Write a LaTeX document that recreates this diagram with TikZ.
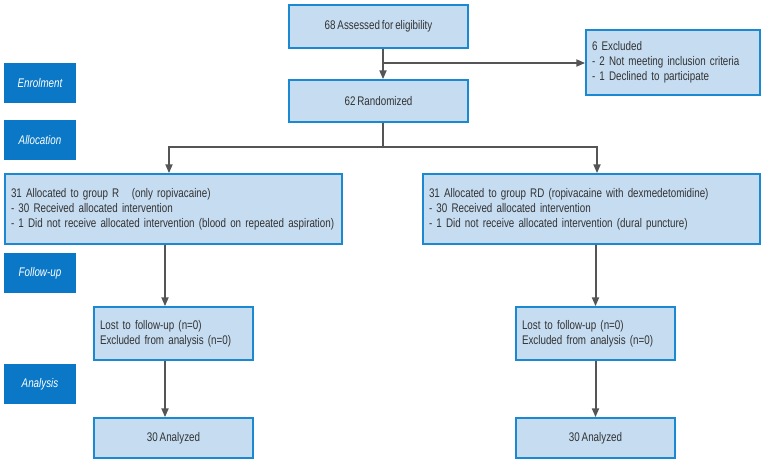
\documentclass[tikz,border=0pt]{standalone}
\usepackage{fontspec}
\setmainfont{Liberation Sans}[FakeStretch=0.785, WordSpace=0.7]
\usetikzlibrary{arrows.meta,positioning}
\definecolor{boxfill}{HTML}{C5DCF1}
\definecolor{boxline}{HTML}{1B88D2}
\definecolor{stagefill}{HTML}{0A78C6}
\definecolor{linegray}{HTML}{555555}
\tikzset{
  flowbox/.style={draw=boxline, fill=boxfill, line width=1.5pt, inner sep=0pt,
    font=\fontsize{12.5}{15}\selectfont, text=black!80},
  stagebox/.style={fill=stagefill, minimum width=72pt, minimum height=40pt,
    text=white, font=\fontsize{12.5}{14}\selectfont\itshape},
  arrow/.style={-{Triangle[length=9pt,width=7pt]}, line width=2pt, draw=linegray},
  link/.style={line width=2pt, draw=linegray}
}

\begin{document}
\begin{tikzpicture}[x=1pt, y=-1pt]
        \useasboundingbox (0,0) rectangle (767,463);

        % Stage labels
        \node[stagebox] (enrol) at (40,83) {Enrolment};
        \node[stagebox] (alloc) at (40,140) {Allocation};
        \node[stagebox] (follow) at (40,273) {Follow-up};
        \node[stagebox] (analysis) at (40,384) {Analysis};

        % Enrolment
        \node[flowbox, minimum width=179pt, minimum height=43pt] (assess) at (378.5,26.5) {68 Assessed for eligibility};
        \node[flowbox, minimum width=179pt, minimum height=42pt] (rand) at (378.5,101) {62 Randomized};
        \node[flowbox, minimum width=174pt, minimum height=65pt, text width=162pt, inner xsep=6pt, align=left] (excl) at (673,62.5)
            {6 Excluded\\- 2 Not meeting inclusion criteria\\- 1 Declined to participate};

        % Allocation
        \node[flowbox, minimum width=337pt, minimum height=70pt, text width=325pt, inner xsep=6pt, align=left] (grpR) at (173.5,209)
            {31 Allocated to group R\quad (only ropivacaine)\\- 30 Received allocated intervention\\\mbox{- 1 Did not receive allocated intervention (blood on repeated aspiration)}};
        \node[flowbox, minimum width=337pt, minimum height=70pt, text width=325pt, inner xsep=6pt, align=left] (grpRD) at (591.5,209)
            {31 Allocated to group RD (ropivacaine with dexmedetomidine)\\- 30 Received allocated intervention\\- 1 Did not receive allocated intervention (dural puncture)};

        % Follow-up
        \node[flowbox, minimum width=159pt, minimum height=53pt, text width=147pt, inner xsep=6pt, align=left] (lostR) at (173.5,333.5)
            {Lost to follow-up (n=0)\\Excluded from analysis (n=0)};
        \node[flowbox, minimum width=159pt, minimum height=53pt, text width=147pt, inner xsep=6pt, align=left] (lostRD) at (595.5,333.5)
            {Lost to follow-up (n=0)\\Excluded from analysis (n=0)};

        % Analysis
        \node[flowbox, minimum width=159pt, minimum height=40pt] (anaR) at (173.5,438) {30 Analyzed};
        \node[flowbox, minimum width=159pt, minimum height=40pt] (anaRD) at (595.5,438) {30 Analyzed};

        % Connectors
        \coordinate (split) at (383,63);
        \coordinate (fork) at (383,147);
        \draw[arrow] (assess.south -| split) -- (rand.north -| split);
        \draw[arrow] (split) -- (excl.west |- split);
        \draw[link] (rand.south -| fork) -- (fork);
        \draw[arrow] (fork) -| ([xshift=-4.5pt]grpR.north);
        \draw[arrow] (fork) -| ([xshift=5.5pt]grpRD.north);
        \draw[arrow] ([xshift=-8.5pt]grpR.south) -- ([xshift=-8.5pt]lostR.north);
        \draw[arrow] (grpRD.south -| lostRD) -- (lostRD.north);
        \draw[arrow] ([xshift=-8.5pt]lostR.south) -- ([xshift=-8.5pt]anaR.north);
        \draw[arrow] (lostRD.south) -- (anaRD.north);
    \end{tikzpicture}
\end{document}
